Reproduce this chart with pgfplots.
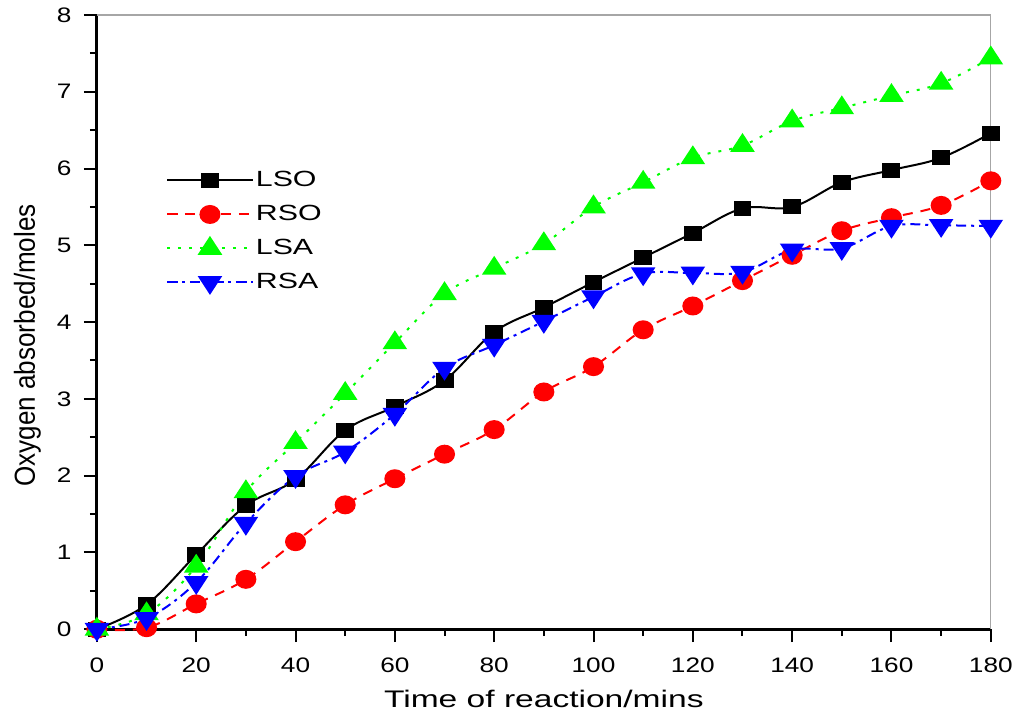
\documentclass[border=0pt]{standalone}
\usepackage{fontspec}
\setmainfont{Liberation Sans}[FakeStretch=1.25]
\newfontfamily\xlabfont{Liberation Sans}[FakeStretch=1.40]
\newfontfamily\legfont{Liberation Sans}[FakeStretch=1.38]
\newfontfamily\ylabfont{Liberation Sans}[FakeStretch=0.90]
\usepackage{pgfplots}
\pgfplotsset{compat=1.18}
\definecolor{cgreen}{RGB}{0,255,0}
\definecolor{cred}{RGB}{255,0,0}
\definecolor{cblue}{RGB}{0,0,255}
\begin{document}
\begin{tikzpicture}
\begin{axis}[
  scale only axis,
  width=895pt, height=615pt,
  xmin=0, xmax=180, ymin=0, ymax=8,
  xtick={0,20,...,180}, ytick={0,1,...,8},
  minor x tick num=1, minor y tick num=1,
  axis x line*=bottom, axis y line*=left,
  axis line style={-, line width=3pt, black},
  tick align=outside,
  major tick length=13pt, minor tick length=7pt,
  every tick/.style={black, line width=2pt},
  /pgf/number format/assume math mode=true,
  ticklabel style={font=\fontsize{21}{25}\selectfont},
  xticklabel style={yshift=-12pt},
  yticklabel style={xshift=-9pt},
  xlabel={Time of reaction/mins},
  ylabel={Oxygen absorbed/moles},
  xlabel style={font=\xlabfont\fontsize{24}{28}\selectfont, at={(axis description cs:0.5,-0.1268)}, anchor=base},
  ylabel style={font=\ylabfont\fontsize{29}{33}\selectfont, at={(axis description cs:-0.0693,0.462)}, anchor=base, rotate=0},
  clip=false,
  legend style={at={(rel axis cs:0.0771,0.752)}, anchor=north west, draw=none, fill=none,
    font=\legfont\fontsize{22}{26}\selectfont, row sep=8pt, inner sep=0pt,
    nodes={inner sep=2pt, text height=17pt, text depth=5pt}},
  legend cell align=left,
  legend image code/.code={\draw[mark repeat=2,mark phase=2] plot coordinates {(0pt,0pt) (43pt,0pt) (86pt,0pt)};},
  every axis plot/.append style={line width=2pt, smooth, tension=0.6},
]
\path (rel axis cs:0,0) ++(-97pt,-85pt);
\path (rel axis cs:1,1) ++(24pt,15pt);
\draw[gray!70, line width=1.2pt] (rel axis cs:0,1) -- (rel axis cs:1,1) -- (rel axis cs:1,0);
\addplot[black, mark=square*, mark size=6.5pt, mark options={solid, xscale=1.23}] coordinates {
(0,0)(10,0.32)(20,0.97)(30,1.61)(40,1.95)(50,2.59)(60,2.90)(70,3.24)(80,3.87)(90,4.19)(100,4.52)(110,4.84)(120,5.16)(130,5.48)(140,5.50)(150,5.82)(160,5.98)(170,6.14)(180,6.46)};
\addlegendentry{LSO}
\addplot[cred, dash pattern=on 10pt off 8pt, mark=*, mark size=8.5pt, mark options={solid, xscale=1.12}] coordinates {
(0,0)(10,0.02)(20,0.33)(30,0.65)(40,1.14)(50,1.62)(60,1.96)(70,2.28)(80,2.60)(90,3.09)(100,3.42)(110,3.90)(120,4.21)(130,4.54)(140,4.87)(150,5.19)(160,5.36)(170,5.52)(180,5.84)};
\addlegendentry{RSO}
\addplot[cgreen, dash pattern=on 3pt off 8pt, mark=triangle*, mark size=10.7pt, mark options={solid, xscale=1.13}] coordinates {
(0,0)(10,0.2)(20,0.82)(30,1.79)(40,2.43)(50,3.07)(60,3.73)(70,4.37)(80,4.70)(90,5.02)(100,5.50)(110,5.82)(120,6.14)(130,6.30)(140,6.62)(150,6.79)(160,6.95)(170,7.11)(180,7.44)};
\addlegendentry{LSA}
\addplot[cblue, dash pattern=on 10pt off 5pt on 3pt off 5pt, mark=triangle*, mark size=10.7pt, mark options={solid, rotate=180, xscale=1.13}] coordinates {
(0,0)(10,0.14)(20,0.61)(30,1.38)(40,1.99)(50,2.31)(60,2.80)(70,3.40)(80,3.70)(90,4.01)(100,4.33)(110,4.63)(120,4.64)(130,4.65)(140,4.94)(150,4.96)(160,5.25)(170,5.26)(180,5.25)};
\addlegendentry{RSA}
\end{axis}
\end{tikzpicture}
\end{document}
